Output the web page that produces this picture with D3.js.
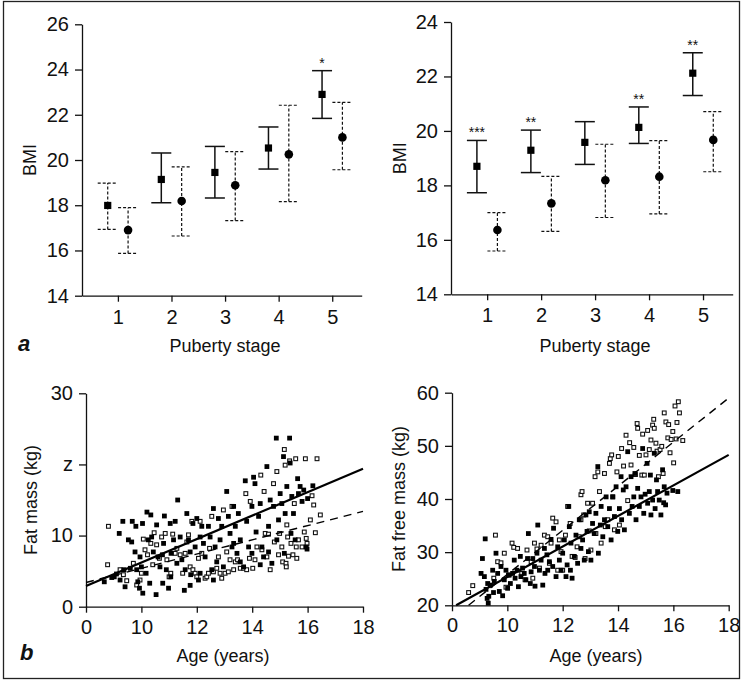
<!DOCTYPE html>
<html>
<head>
<meta charset="utf-8">
<title>BMI, fat mass and fat free mass</title>
<script src="https://d3js.org/d3.v7.min.js"></script>
<style>
  body { margin: 0; background: #fff; }
  svg text { font-family: "Liberation Sans", Arial, Helvetica, sans-serif; fill: #111; }
</style>
</head>
<body>
<div id="chart"></div>
<script>

// ---- panel a : BMI by puberty stage ----
var stages = [1, 2, 3, 4, 5];
var bmiTicksLeft = [14, 16, 18, 20, 22, 24, 26];
var bmiTicksRight = [14, 16, 18, 20, 22, 24];

// left panel (squares / circles, mean with range)
var leftSqMean = [17.99, 19.14, 19.45, 20.53, 22.90];
var leftSqLo   = [16.93, 18.11, 18.32, 19.60, 21.84];
var leftSqHi   = [18.98, 20.31, 20.60, 21.46, 23.95];
var leftCiMean = [16.90, 18.19, 18.88, 20.25, 21.00];
var leftCiLo   = [15.87, 16.64, 17.32, 18.16, 19.57];
var leftCiHi   = [17.89, 19.70, 20.37, 22.42, 22.55];
var leftStars  = ["", "", "", "", "*"];

// right panel
var rightSqMean = [18.70, 19.29, 19.58, 20.13, 22.12];
var rightSqLo   = [17.73, 18.47, 18.77, 19.54, 21.30];
var rightSqHi   = [19.65, 20.03, 20.34, 20.88, 22.87];
var rightCiMean = [16.36, 17.34, 18.19, 18.32, 19.67];
var rightCiLo   = [15.59, 16.31, 16.82, 16.95, 18.50];
var rightCiHi   = [17.00, 18.33, 19.51, 19.64, 20.71];
var rightStars  = ["***", "**", "", "**", "**"];

// ---- panel b : fat mass / fat free mass by age ----
var ageTicks = [8, 10, 12, 14, 16, 18];
var ageTickLabels = ["0", "10", "12", "14", "16", "18"];   // broken axis, first tick printed as 0
var fmTicks = [0, 10, 20, 30];
var fmTickLabels = ["0", "10", "z", "30"];                 // as printed
var ffmTicks = [20, 30, 40, 50, 60];

// fat mass, filled squares [age, kg]
var fmFilled = [
  [8.66,3.5],[8.93,4.1],[9.02,4.2],[9.23,3.75],[9.33,12.0],[9.2,10.3],[9.37,5.2],[9.41,2.8],[9.53,9.4],[9.6,5.4],
  [9.65,9.1],[9.67,12.0],[9.8,11.3],[9.77,7.7],[9.83,5.2],[9.87,3.5],[9.93,2.6],[10.04,11.7],[10.05,1.9],[9.95,7.0],
  [10.0,5.6],[10.2,13.3],[10.34,12.9],[10.25,9.4],[10.17,4.7],[10.3,3.3],[10.43,7.7],[10.53,1.7],[10.55,11.5],[10.6,7.0],
  [10.67,5.6],[10.8,8.9],[10.83,12.75],[10.9,5.2],[10.98,2.6],[11.04,11.7],[11.07,7.5],[11.16,9.4],[11.22,12.0],[11.28,6.1],
  [11.31,15.0],[11.4,9.8],[11.46,6.6],[11.55,2.3],[11.64,13.1],[11.7,9.4],[11.76,7.7],[11.78,4.5],[11.86,11.7],[11.94,8.4],
  [12.0,12.4],[12.06,3.75],[12.12,9.8],[12.18,11.3],[12.24,8.9],[12.3,7.0],[12.42,11.3],[12.48,9.8],[12.54,5.2],[12.6,13.8],
  [12.66,8.4],[12.78,12.4],[12.84,9.4],[12.9,11.3],[12.96,5.6],[13.08,16.2],[13.14,12.7],[13.2,10.3],[13.27,8.4],[13.33,14.1],
  [13.39,11.3],[13.45,7.5],[13.5,13.1],[13.57,9.4],[13.69,5.6],[13.75,17.7],[13.8,12.0],[13.87,8.4],[13.99,14.1],[14.05,18.2],
  [14.1,17.3],[14.14,10.5],[14.23,12.7],[14.29,14.5],[14.35,8.4],[14.41,7.0],[14.53,19.7],[14.59,11.3],[14.65,15.0],[14.71,6.1],
  [14.77,14.1],[14.87,23.7],[14.89,9.4],[14.95,12.2],[15.01,15.9],[15.07,14.5],[15.13,21.1],[15.16,7.5],[15.19,13.1],[15.25,16.9],
  [15.35,23.7],[15.37,20.2],[15.4,10.3],[15.43,15.5],[15.49,13.1],[15.55,9.4],[15.64,18.0],[15.67,15.9],[15.73,16.9],[15.8,14.8],
  [15.86,16.4],[15.95,8.4],[16.0,15.2],[16.19,17.0],[15.98,8.1],[10.37,9.8],[10.76,7.3],[11.58,5.2],[12.12,4.7],[12.6,3.75],
  [11.76,3.0],[10.77,3.3],[11.06,4.2],[12.72,6.3],[13.57,6.3],[14.29,5.9],[13.99,7.5],[14.59,7.7],[13.33,8.9],[9.1,4.6]
];

// fat mass, open squares
var fmOpen = [
  [8.78,5.9],[8.81,11.3],[9.23,5.2],[9.35,4.5],[9.47,3.65],[9.71,6.1],[9.83,3.05],[9.95,3.75],[10.0,4.7],[10.07,9.5],
  [10.13,8.0],[10.22,7.3],[10.34,8.9],[10.41,5.9],[10.46,10.4],[10.55,8.7],[10.65,6.8],[10.73,9.8],[10.86,10.3],[10.92,6.6],
  [11.0,4.2],[11.06,4.7],[11.13,10.2],[11.22,7.5],[11.28,8.2],[11.4,7.3],[11.49,4.7],[11.58,7.5],[11.64,9.1],[11.7,10.1],
  [11.76,5.6],[11.82,12.0],[11.86,5.2],[11.94,4.7],[12.0,4.2],[12.12,12.0],[12.18,7.5],[12.3,4.0],[12.36,4.2],[12.42,4.7],
  [12.46,8.2],[12.54,12.7],[12.6,4.9],[12.72,5.4],[12.78,7.0],[12.84,4.7],[12.9,4.0],[12.96,13.6],[13.02,4.7],[13.08,7.7],
  [13.14,4.9],[13.2,6.6],[13.27,14.1],[13.33,5.2],[13.39,6.3],[13.47,6.6],[13.57,5.4],[13.69,5.4],[13.77,15.9],[13.8,5.2],
  [13.9,6.8],[13.93,14.8],[14.02,5.4],[14.1,6.6],[14.17,8.4],[14.31,18.5],[14.35,8.0],[14.43,16.2],[14.47,10.3],[14.53,7.0],
  [14.59,10.2],[14.65,5.2],[14.77,17.3],[14.8,9.1],[14.89,19.0],[14.95,7.3],[14.99,10.3],[15.07,8.4],[15.1,6.3],[15.16,22.1],
  [15.19,19.9],[15.22,6.1],[15.23,5.6],[15.25,11.5],[15.28,9.8],[15.31,7.1],[15.35,20.5],[15.4,8.9],[15.47,7.3],[15.52,14.5],
  [15.57,20.8],[15.59,8.4],[15.61,6.8],[15.67,9.4],[15.8,8.4],[15.92,20.8],[15.88,10.5],[15.95,9.6],[16.1,12.2],[16.16,15.6],
  [16.22,14.3],[16.28,10.4],[16.34,20.8],[16.46,12.9],[15.98,8.9],[12.06,6.8]
];

// fat free mass, filled squares
var ffmFilled = [
  [9.1,28.8],[9.2,32.5],[9.17,25.4],[9.23,23.0],[9.27,21.3],[9.31,20.4],[9.29,24.1],[9.39,23.8],[9.47,26.6],[9.53,24.5],
  [9.59,29.8],[9.65,26.0],[9.71,22.6],[9.77,27.3],[9.83,21.8],[9.89,24.8],[9.95,26.6],[10.01,23.2],[10.04,25.7],[10.11,24.1],
  [10.19,26.0],[10.25,28.5],[10.28,25.1],[10.35,26.6],[10.4,23.5],[10.47,29.2],[10.49,25.4],[10.55,27.0],[10.61,26.0],[10.67,24.8],
  [10.73,28.8],[10.76,33.5],[10.83,24.1],[10.86,26.3],[10.92,28.8],[10.98,27.3],[11.0,23.6],[11.07,29.8],[11.1,35.1],[11.16,26.6],
  [11.22,28.5],[11.28,23.8],[11.34,30.7],[11.36,26.0],[11.43,29.5],[11.46,26.6],[11.52,28.2],[11.58,32.4],[11.64,27.3],[11.67,34.5],
  [11.76,25.4],[11.82,31.0],[11.88,28.5],[11.94,26.6],[12.0,29.8],[12.06,32.3],[12.12,25.4],[12.16,27.6],[12.22,38.6],[12.24,34.8],
  [12.28,26.6],[12.3,31.7],[12.34,25.1],[12.42,29.2],[12.48,33.2],[12.54,27.9],[12.6,36.1],[12.66,30.7],[12.72,32.3],[12.78,28.5],
  [12.84,37.0],[12.88,33.9],[12.93,30.1],[12.96,37.6],[13.02,28.5],[13.08,35.4],[13.14,33.5],[13.2,37.3],[13.27,46.1],[13.29,29.8],
  [13.36,35.1],[13.39,38.6],[13.45,32.9],[13.51,36.1],[13.57,40.4],[13.63,34.8],[13.69,38.2],[13.75,32.3],[13.81,40.4],[13.87,36.7],
  [13.93,42.3],[13.99,33.9],[14.05,38.2],[14.11,44.2],[14.13,36.1],[14.19,41.7],[14.23,34.2],[14.29,42.3],[14.35,48.9],[14.41,37.3],
  [14.47,44.2],[14.51,38.6],[14.57,40.4],[14.61,44.8],[14.65,36.1],[14.71,42.0],[14.77,38.6],[14.83,40.4],[14.89,49.5],[14.93,37.3],
  [14.98,40.9],[15.05,46.7],[15.07,39.2],[15.13,41.4],[15.17,44.5],[15.19,37.0],[15.25,39.8],[15.31,48.6],[15.34,38.2],[15.39,43.6],
  [15.43,41.4],[15.49,39.8],[15.55,37.0],[15.61,45.5],[15.67,42.3],[15.72,38.9],[15.77,41.1],[15.98,41.6],[16.16,41.4],[15.65,39.3],
  [9.05,26.0],[9.33,21.7],[9.5,22.4]
];

// fat free mass, open squares
var ffmOpen = [
  [8.6,22.4],[8.75,23.7],[9.57,33.2],[9.51,25.1],[9.65,28.2],[9.77,28.0],[9.89,29.8],[9.95,23.4],[10.07,25.7],[10.17,31.7],
  [10.23,30.9],[10.37,30.7],[10.52,26.0],[10.64,24.8],[10.71,30.4],[10.86,28.2],[10.92,25.1],[10.98,31.7],[11.07,30.6],[11.16,27.0],
  [11.22,31.3],[11.34,33.2],[11.46,32.9],[11.52,27.9],[11.58,31.7],[11.64,36.4],[11.76,35.7],[11.82,26.6],[11.88,32.3],[11.94,30.1],
  [12.0,26.6],[12.1,33.2],[12.18,38.6],[12.27,35.4],[12.34,29.2],[12.45,29.0],[12.52,31.0],[12.6,32.9],[12.66,40.8],[12.7,41.4],
  [12.76,37.0],[12.81,28.8],[12.9,39.2],[12.96,34.0],[13.02,30.4],[13.08,39.2],[13.17,44.2],[13.2,33.5],[13.27,45.1],[13.33,41.4],
  [13.39,31.7],[13.51,44.8],[13.54,34.8],[13.63,36.1],[13.69,46.7],[13.72,47.6],[13.77,48.3],[13.81,40.4],[13.87,34.2],[13.96,45.1],
  [14.01,48.0],[14.05,35.1],[14.13,49.5],[14.2,46.2],[14.29,52.0],[14.35,39.7],[14.42,50.6],[14.47,46.4],[14.57,49.7],[14.63,44.6],
  [14.69,54.2],[14.71,53.3],[14.77,48.2],[14.86,44.5],[14.89,52.2],[14.95,44.5],[15.01,48.3],[15.07,52.9],[15.13,49.3],[15.19,51.1],
  [15.25,53.9],[15.29,55.0],[15.31,53.3],[15.37,50.5],[15.41,49.0],[15.46,44.2],[15.52,49.3],[15.58,49.9],[15.63,44.8],[15.67,56.2],
  [15.73,54.5],[15.8,51.5],[15.83,54.0],[15.88,48.7],[15.92,51.2],[15.98,52.7],[16.01,46.8],[16.06,57.5],[16.13,54.4],[16.18,58.3],
  [16.22,56.2],[16.34,51.0],[16.1,51.3],[12.66,36.1]
];

// regression lines (end points)
var fmSolidLine  = [[8, 2.9], [18, 19.4]];
var fmDashLine   = [[8, 3.4], [18, 13.4]];
var ffmSolidLine = [[8.15, 20], [18, 48.3]];
var ffmDashLine  = [[8.6, 20], [18, 59.0]];

var W = 742, H = 681;
var svg = d3.select("#chart").append("svg")
  .attr("width", W).attr("height", H);

// frame round the whole figure
svg.append("rect")
  .attr("x", 3.5).attr("y", 1.5)
  .attr("width", 736).attr("height", 677)
  .attr("fill", "none").attr("stroke", "#222").attr("stroke-width", 1.3);

function styleAxis(g) {
  g.selectAll("path, line").attr("stroke", "#111").attr("stroke-width", 1.3);
  g.selectAll("text").attr("font-size", 20).attr("fill", "#111")
    .attr("font-family", '"Liberation Sans", Arial, sans-serif');
}

function bmiPanel(o) {
  var x = d3.scaleLinear().domain([0.33, 5.55]).range([o.left, o.right]);
  var y = d3.scaleLinear().domain(o.yDomain).range([o.bottom, o.top]);
  var g = svg.append("g");

  g.append("g").attr("transform", "translate(0," + o.bottom + ")")
    .call(d3.axisBottom(x).tickValues(stages).tickFormat(d3.format("d"))
      .tickSize(6).tickPadding(8).tickSizeOuter(0))
    .call(styleAxis);
  g.append("g").attr("transform", "translate(" + o.left + ",0)")
    .call(d3.axisLeft(y).tickValues(o.yTicks).tickSize(7).tickPadding(6).tickSizeOuter(0))
    .call(styleAxis);

  var off = 0.19, cap = 10;
  function bar(xs, lo, hi, dashed) {
    var b = g.append("g")
      .attr("stroke", "#111")
      .attr("stroke-width", dashed ? 1.2 : 1.5)
      .attr("stroke-dasharray", dashed ? "3,2" : null);
    b.append("line").attr("x1", xs).attr("x2", xs).attr("y1", y(lo)).attr("y2", y(hi));
    b.append("line").attr("x1", xs - cap).attr("x2", xs + cap).attr("y1", y(lo)).attr("y2", y(lo));
    b.append("line").attr("x1", xs - cap).attr("x2", xs + cap).attr("y1", y(hi)).attr("y2", y(hi));
  }

  stages.forEach(function(s, i) {
    bar(x(s - off), o.sqLo[i], o.sqHi[i], o.sqDashed.indexOf(s) >= 0);
    bar(x(s + off), o.ciLo[i], o.ciHi[i], true);
  });

  g.selectAll("rect.m").data(stages).enter().append("rect")
    .attr("x", function(s) { return x(s - off) - 3.6; })
    .attr("y", function(s, i) { return y(o.sqMean[i]) - 3.6; })
    .attr("width", 7.2).attr("height", 7.2).attr("fill", "#000");
  g.selectAll("circle.m").data(stages).enter().append("circle")
    .attr("cx", function(s) { return x(s + off); })
    .attr("cy", function(s, i) { return y(o.ciMean[i]); })
    .attr("r", 4.3).attr("fill", "#000");

  g.selectAll("text.star").data(stages).enter().append("text")
    .attr("x", function(s) { return x(s - off); })
    .attr("y", function(s, i) { return y(o.sqHi[i]) - 3; })
    .attr("text-anchor", "middle").attr("font-size", 14)
    .text(function(s, i) { return o.stars[i]; });

  g.append("text").attr("transform", "translate(" + o.yLabelX + "," + ((o.top + o.bottom) / 2) + ") rotate(-90)")
    .attr("text-anchor", "middle").attr("font-size", 18).text("BMI");
  g.append("text").attr("x", x(3)).attr("y", 352)
    .attr("text-anchor", "middle").attr("font-size", 18).text("Puberty stage");
}

bmiPanel({
  left: 82, right: 361.7, top: 24.3, bottom: 295.7, yDomain: [14, 26], yTicks: bmiTicksLeft,
  sqMean: leftSqMean, sqLo: leftSqLo, sqHi: leftSqHi,
  ciMean: leftCiMean, ciLo: leftCiLo, ciHi: leftCiHi,
  stars: leftStars, sqDashed: [1], yLabelX: 36
});
bmiPanel({
  left: 451, right: 732.7, top: 22, bottom: 294.3, yDomain: [14, 24], yTicks: bmiTicksRight,
  sqMean: rightSqMean, sqLo: rightSqLo, sqHi: rightSqHi,
  ciMean: rightCiMean, ciLo: rightCiLo, ciHi: rightCiHi,
  stars: rightStars, sqDashed: [], yLabelX: 406
});

function agePanel(o) {
  var x = d3.scaleLinear().domain([8, 18]).range([o.left, o.right]);
  var y = d3.scaleLinear().domain(o.yDomain).range([o.bottom, o.top]);
  var g = svg.append("g");

  g.append("g").attr("transform", "translate(0," + o.bottom + ")")
    .call(d3.axisBottom(x).tickValues(ageTicks).tickSize(6).tickPadding(7).tickSizeOuter(0)
      .tickFormat(function(d, i) { return ageTickLabels[i]; }))
    .call(styleAxis);
  g.append("g").attr("transform", "translate(" + o.left + ",0)")
    .call(d3.axisLeft(y).tickValues(o.yTicks).tickSize(7).tickPadding(6).tickSizeOuter(0)
      .tickFormat(function(d, i) { return o.yLabels ? o.yLabels[i] : d; }))
    .call(styleAxis);

  g.selectAll("rect.o").data(o.open).enter().append("rect")
    .attr("x", function(d) { return x(d[0]) - 1.9; })
    .attr("y", function(d) { return y(d[1]) - 1.9; })
    .attr("width", 3.8).attr("height", 3.8)
    .attr("fill", "#fff").attr("stroke", "#111").attr("stroke-width", 1.1);
  g.selectAll("rect.f").data(o.filled).enter().append("rect")
    .attr("x", function(d) { return x(d[0]) - 2.4; })
    .attr("y", function(d) { return y(d[1]) - 2.4; })
    .attr("width", 4.8).attr("height", 4.8).attr("fill", "#000");

  var line = d3.line().x(function(d) { return x(d[0]); }).y(function(d) { return y(d[1]); });
  g.append("path").datum(o.solid).attr("d", line)
    .attr("fill", "none").attr("stroke", "#000").attr("stroke-width", 2.2);
  g.append("path").datum(o.dashed).attr("d", line)
    .attr("fill", "none").attr("stroke", "#000").attr("stroke-width", 1.4)
    .attr("stroke-dasharray", "8,6");

  g.append("text").attr("transform", "translate(" + o.yLabelX + "," + ((o.top + o.bottom) / 2) + ") rotate(-90)")
    .attr("text-anchor", "middle").attr("font-size", 18).text(o.yTitle);
  g.append("text").attr("x", o.xTitleX).attr("y", 662)
    .attr("text-anchor", "middle").attr("font-size", 18).text("Age (years)");
}

agePanel({
  left: 86, right: 363, top: 393.3, bottom: 606.7, yDomain: [0, 30], yTicks: fmTicks, yLabels: fmTickLabels,
  filled: fmFilled, open: fmOpen, solid: fmSolidLine, dashed: fmDashLine,
  yTitle: "Fat mass (kg)", yLabelX: 37, xTitleX: 223
});
agePanel({
  left: 452, right: 728.7, top: 392.7, bottom: 605.3, yDomain: [20, 60], yTicks: ffmTicks, yLabels: null,
  filled: ffmFilled, open: ffmOpen, solid: ffmSolidLine, dashed: ffmDashLine,
  yTitle: "Fat free mass (kg)", yLabelX: 405, xTitleX: 596
});

// panel letters
svg.append("text").attr("x", 18).attr("y", 351)
  .attr("font-family", '"Liberation Serif", "Times New Roman", serif')
  .attr("font-style", "italic").attr("font-weight", "bold").attr("font-size", 22).text("a");
svg.append("text").attr("x", 20).attr("y", 660)
  .attr("font-family", '"Liberation Serif", "Times New Roman", serif')
  .attr("font-style", "italic").attr("font-weight", "bold").attr("font-size", 22).text("b");

</script>
</body>
</html>
